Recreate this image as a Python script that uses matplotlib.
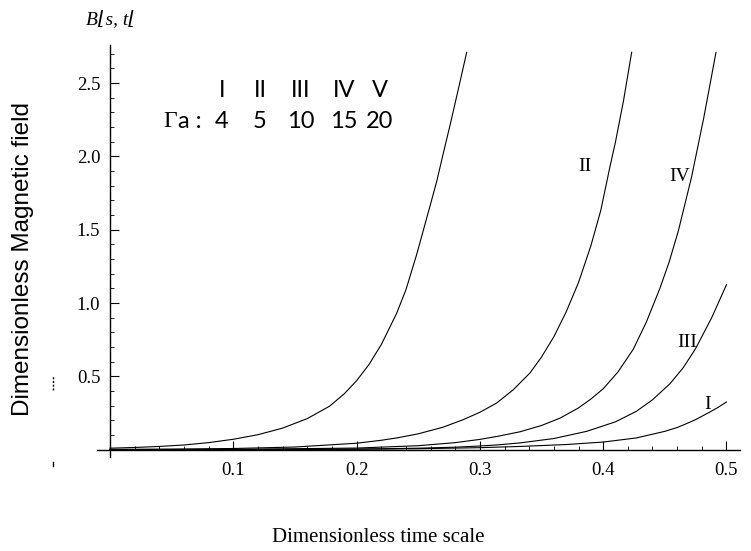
import matplotlib
matplotlib.use("Agg")
import matplotlib.pyplot as plt
from matplotlib.lines import Line2D
from matplotlib.ticker import MultipleLocator, FixedLocator

##############################################################################
# values (time scale t, field B)

t_V = [0.0, 0.02, 0.04, 0.06, 0.08, 0.10, 0.12, 0.14, 0.16, 0.178, 0.19, 0.20,
       0.21, 0.22, 0.2325, 0.24, 0.2487, 0.2595, 0.265, 0.2703, 0.276, 0.2812,
       0.2893]
B_V = [0.010, 0.015, 0.022, 0.032, 0.048, 0.071, 0.102, 0.147, 0.212, 0.296,
       0.381, 0.470, 0.58, 0.716, 0.93, 1.09, 1.33, 1.66, 1.83, 2.02, 2.22,
       2.41, 2.71]

t_II = [0.0, 0.05, 0.10, 0.15, 0.20, 0.22, 0.2325, 0.25, 0.27, 0.2866, 0.30,
        0.3136, 0.327, 0.3406, 0.35, 0.36, 0.37, 0.38, 0.39, 0.398, 0.4055,
        0.41, 0.4165, 0.4231]
B_II = [0.002, 0.004, 0.008, 0.018, 0.044, 0.064, 0.080, 0.108, 0.153, 0.205,
        0.255, 0.318, 0.408, 0.523, 0.632, 0.77, 0.94, 1.14, 1.39, 1.63, 1.93,
        2.10, 2.38, 2.71]

t_IV = [0.0, 0.10, 0.20, 0.25, 0.28, 0.30, 0.315, 0.3325, 0.35, 0.365, 0.38,
        0.39, 0.40, 0.412, 0.4244, 0.435, 0.446, 0.4535, 0.4609, 0.4717,
        0.4815, 0.4915]
B_IV = [0.0004, 0.002, 0.011, 0.027, 0.048, 0.070, 0.092, 0.122, 0.165, 0.215,
        0.285, 0.345, 0.415, 0.53, 0.685, 0.87, 1.10, 1.28, 1.49, 1.86, 2.26,
        2.71]

t_III = [0.0, 0.10, 0.20, 0.25, 0.28, 0.30, 0.315, 0.3325, 0.36, 0.3866, 0.41,
         0.427, 0.44, 0.4542, 0.465, 0.475, 0.488, 0.50]
B_III = [0.0001, 0.0006, 0.004, 0.010, 0.017, 0.025, 0.033, 0.046, 0.076,
         0.125, 0.19, 0.262, 0.34, 0.45, 0.56, 0.69, 0.90, 1.125]

t_I = [0.0, 0.10, 0.20, 0.25, 0.30, 0.3325, 0.37, 0.40, 0.427, 0.45, 0.46,
       0.4677, 0.475, 0.485, 0.4925, 0.50]
B_I = [0.0002, 0.0007, 0.003, 0.0065, 0.0136, 0.022, 0.035, 0.052, 0.080,
       0.125, 0.151, 0.178, 0.205, 0.250, 0.285, 0.325]

curve_tags = ["I", "II", "III", "IV", "V"]
gamma_a = ["4", "5", "10", "15", "20"]

##############################################################################
# matplotlib configuration

linewidth = 0.8
serif = ["Liberation Serif", "DejaVu Serif"]
sans = ["Lato", "DejaVu Sans"]

fig = plt.figure(figsize=(7.51, 5.51), dpi=100)
ax = fig.add_axes([0.1292, 0.1706, 0.8562, 0.7477])

for t, B in [(t_V, B_V), (t_II, B_II), (t_IV, B_IV), (t_III, B_III), (t_I, B_I)]:
    ax.plot(t, B, color="black", lw=linewidth, solid_joinstyle="round")

ax.set_xlim(-0.0105, 0.511)
ax.set_ylim(-0.05, 2.76)

# mathematica style axes crossing at the origin
for side in ["top", "right"]:
    ax.spines[side].set_visible(False)
ax.spines["left"].set_position(("data", 0))
ax.spines["bottom"].set_position(("data", 0))
for side in ["left", "bottom"]:
    ax.spines[side].set_linewidth(1.0)

ax.xaxis.set_major_locator(FixedLocator([0.1, 0.2, 0.3, 0.4, 0.5]))
ax.xaxis.set_minor_locator(MultipleLocator(0.02))
ax.yaxis.set_major_locator(FixedLocator([0.5, 1.0, 1.5, 2.0, 2.5]))
ax.yaxis.set_minor_locator(MultipleLocator(0.1))
ax.set_xticklabels(["0.1", "0.2", "0.3", "0.4", "0.5"])
ax.set_yticklabels(["0.5", "1.0", "1.5", "2.0", "2.5"])

ax.tick_params(axis="x", which="major", direction="in", length=6.5, width=0.8,
               pad=9, labelsize=13.5)
ax.tick_params(axis="y", which="major", direction="in", length=6.5, width=0.8,
               pad=7, labelsize=13.5)
ax.tick_params(which="minor", direction="in", length=3.2, width=0.6)
for lab in ax.get_xticklabels() + ax.get_yticklabels():
    lab.set_family(serif)

# curve tags
ax.text(0.385, 1.93, "II", family=serif, fontsize=14, ha="center", va="center")
ax.text(0.462, 1.86, "IV", family=serif, fontsize=14, ha="center", va="center")
ax.text(0.468, 0.73, "III", family=serif, fontsize=14, ha="center", va="center")
ax.text(0.485, 0.31, "I", family=serif, fontsize=14, ha="center", va="center")

# parameter table
col_x = [0.0908, 0.1217, 0.1550, 0.1895, 0.2190]
row1_y, row2_y = 2.447, 2.236
for x, tag, val in zip(col_x, curve_tags, gamma_a):
    ax.text(x, row1_y, tag, family=sans, fontsize=17, ha="center", va="center")
    ax.text(x, row2_y, val, family=sans, fontsize=17, ha="center", va="center")
ax.text(0.0430, row2_y, "\u0393", family=serif, fontsize=17, ha="left", va="center")
ax.text(0.0555, row2_y, "a :", family=sans, fontsize=17, ha="left", va="center")

# axis titles
fig.text(0.115, 0.963, "B\u230as, t\u230a", family=serif, style="italic",
         fontsize=14, ha="left", va="center")
fig.text(0.503, 0.024, "Dimensionless time scale", family=serif, fontsize=15,
         ha="center", va="center")
fig.text(0.031, 0.53, "Dimensionless Magnetic field", family=["Liberation Sans", "DejaVu Sans"],
         fontsize=17.5, rotation=90, ha="center", va="center")

# leftover marks of the original label
fig.add_artist(Line2D([0.0706, 0.0706], [0.292, 0.317], color="black", lw=1.0,
                      ls=(0, (1.5, 1.2))))
fig.add_artist(Line2D([0.0706, 0.0706], [0.154, 0.161], color="black", lw=1.0))

fig.savefig("out.png", dpi=100)
